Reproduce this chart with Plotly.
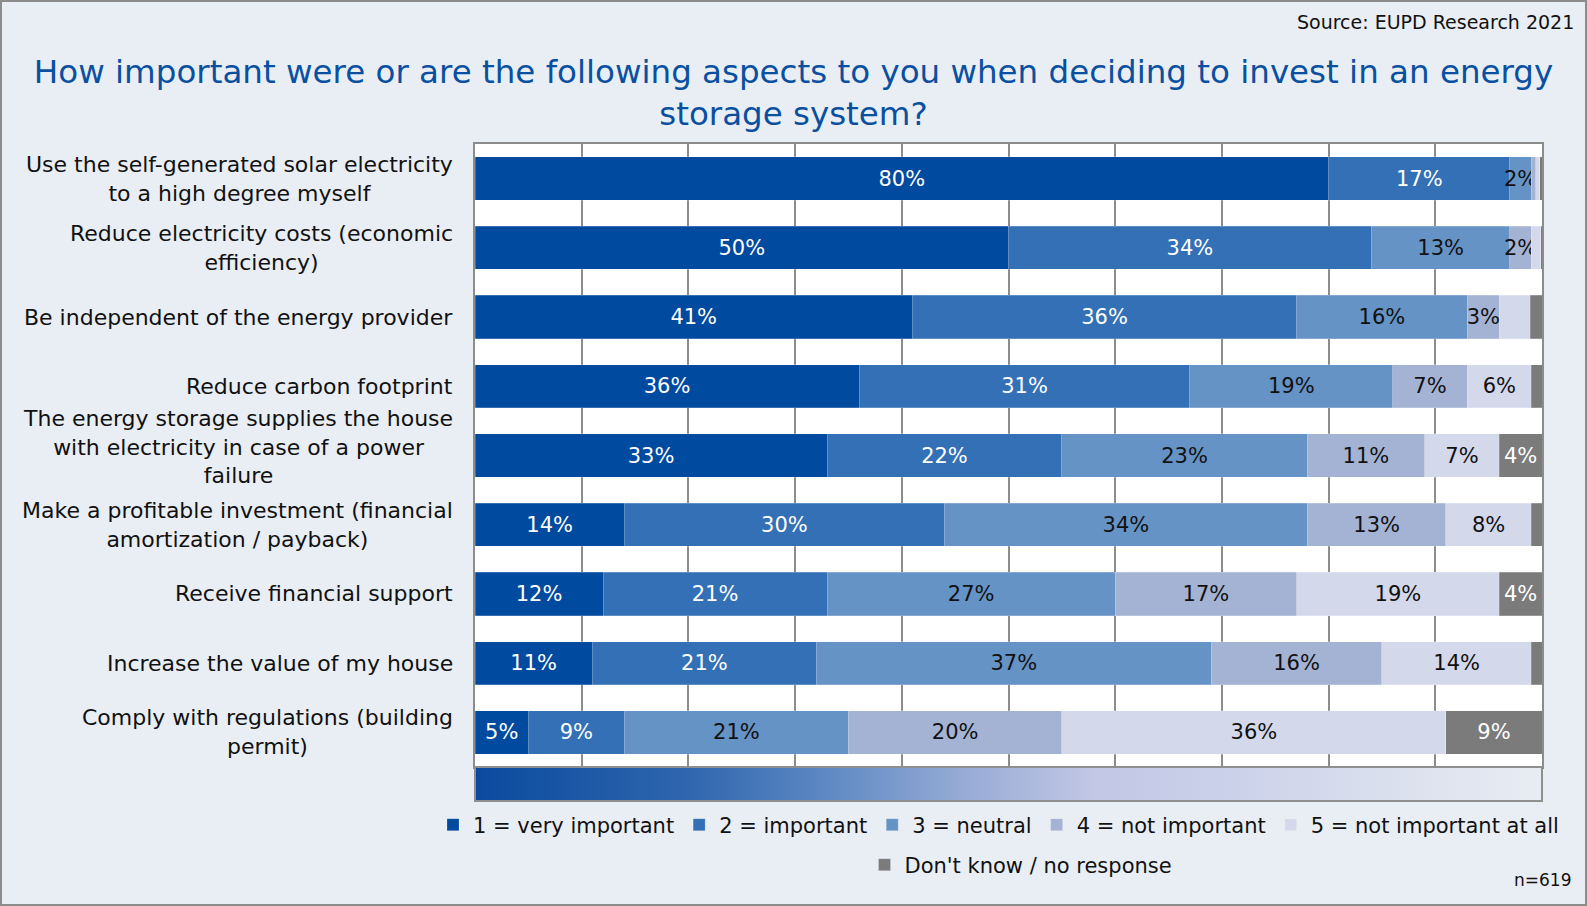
import plotly.graph_objects as go

# Survey answers, share of respondents in percent (n=619)
aspects = [
    "Use the self-generated solar electricity<br>to a high degree myself",
    "Reduce electricity costs (economic<br>efficiency)",
    "Be independent of the energy provider",
    "Reduce carbon footprint",
    "The energy storage supplies the house<br>with electricity in case of a power<br>failure",
    "Make a profitable investment (financial<br>amortization / payback)",
    "Receive financial support",
    "Increase the value of my house",
    "Comply with regulations (building<br>permit)",
]
very_important = [80, 50, 41, 36, 33, 14, 12, 11, 5]
important = [17, 34, 36, 31, 22, 30, 21, 21, 9]
neutral = [2, 13, 16, 19, 23, 34, 27, 37, 21]
not_important = [0.4, 2, 3, 7, 11, 13, 17, 16, 20]
not_important_at_all = [0.4, 0.9, 2.9, 6, 7, 8, 19, 14, 36]
dont_know = [0.2, 0.1, 1.1, 1, 4, 1, 4, 1, 9]

series_names = [
    "1 = very important",
    "2 = important",
    "3 = neutral",
    "4 = not important",
    "5 = not important at all",
    "Don't know / no response",
]
series_values = [very_important, important, neutral, not_important,
                 not_important_at_all, dont_know]
series_colors = ["#004a9f", "#3370b5", "#6593c6", "#a4b3d4", "#d3d8eb", "#7b7b7b"]
label_colors = ["white", "white", "#111111", "#111111", "#111111", "white"]

# (row, series) pairs whose segment carries no percentage label
unlabelled = {(0, 3), (0, 4), (0, 5), (1, 4), (1, 5), (2, 4), (2, 5),
              (3, 5), (5, 5), (7, 5)}

FONT = "DejaVu Sans"
W, H = 1587, 906
L, R, T, B = 475, 45, 144, 105
plot_h = H - T - B
plot_w = W - L - R
strip = (801 - 767) / plot_h  # height share of the gradient strip under the bars

fig = go.Figure()

for s, (name, vals, col, tcol) in enumerate(zip(series_names, series_values,
                                                 series_colors, label_colors)):
    texts = ["" if (r, s) in unlabelled else f"{v:g}%" for r, v in enumerate(vals)]
    fig.add_trace(go.Bar(
        y=aspects, x=vals, orientation="h", name=name,
        marker=dict(color=col, line=dict(color="rgba(255,255,255,0.35)", width=0.6)),
        text=texts, textposition="inside", insidetextanchor="middle", textangle=0,
        textfont=dict(family=FONT, size=21, color=tcol),
        legend="legend2" if s == 5 else "legend",
        hoverinfo="skip",
    ))

# Decorative colour ramp below the bars
fig.add_trace(go.Scatter(
    x=[0, 100, 100, 0, 0], y=[0, 0, 1, 1, 0], xaxis="x2", yaxis="y2",
    mode="lines", line=dict(width=0), fill="toself",
    fillgradient=dict(type="horizontal", colorscale=[
        [0.0, "#0a4a9e"], [0.2, "#2f66ae"], [0.32, "#5a86c2"],
        [0.45, "#93a9d4"], [0.58, "#c2c7e5"], [0.72, "#ccd2ea"],
        [0.86, "#dbe0ee"], [1.0, "#e8ecf3"]]),
    showlegend=False, hoverinfo="skip",
))

annotations = []
for r, a in enumerate(aspects):
    annotations.append(dict(
        x=(455 - L) / plot_w, xref="paper", y=a, yref="y",
        text=a, showarrow=False, xanchor="right", yanchor="middle", align="center",
        font=dict(family=FONT, size=22, color="#111111"),
        yshift=9 if r == 4 else 0,
    ))
annotations.append(dict(
    x=(1576 - L) / plot_w, xref="paper", y=(H - B - 22) / plot_h, yref="paper",
    text="Source: EUPD Research 2021", showarrow=False, xanchor="right",
    yanchor="middle", font=dict(family=FONT, size=19, color="#111111"),
))
annotations.append(dict(
    x=(1573 - L) / plot_w, xref="paper", y=(H - B - 880) / plot_h, yref="paper",
    text="n=619", showarrow=False, xanchor="right", yanchor="middle",
    font=dict(family=FONT, size=17, color="#111111"),
))

shapes = [
    # outer frame of the figure
    dict(type="rect", xref="paper", yref="paper",
         x0=(1 - L) / plot_w, x1=(W - 1 - L) / plot_w,
         y0=-(B - 1) / plot_h, y1=1 + (T - 1) / plot_h,
         line=dict(color="#8c8c8c", width=2), fillcolor="rgba(0,0,0,0)"),
    # frame of the colour ramp
    dict(type="rect", xref="paper", yref="paper", x0=0, x1=1, y0=0, y1=strip,
         line=dict(color="#8f8f8f", width=2), fillcolor="rgba(0,0,0,0)"),
]

fig.update_layout(
    width=W, height=H,
    margin=dict(l=L, r=R, t=T, b=B, autoexpand=False),
    paper_bgcolor="#e9eef4", plot_bgcolor="white",
    barmode="stack", bargap=0.375,
    font=dict(family=FONT, color="#111111"),
    uniformtext=dict(minsize=21, mode="show"),
    title=dict(
        text="How important were or are the following aspects to you when deciding to invest in an energy<br>storage system?",
        x=0.5, xanchor="center", y=1 - 83 / H, yanchor="middle", yref="container",
        font=dict(family=FONT, size=32.5, color="#0a50a1"),
    ),
    xaxis=dict(range=[0, 100], domain=[0, 1], showticklabels=False, ticks="",
               dtick=10, showgrid=True, gridcolor="#8c8c8c", gridwidth=1.5,
               showline=True, linecolor="#8c8c8c", linewidth=1.5, mirror=True,
               zeroline=False, fixedrange=True),
    yaxis=dict(domain=[strip, 1], autorange="reversed", showticklabels=False,
               ticks="", showgrid=False, showline=True, linecolor="#8c8c8c",
               linewidth=1.5, mirror=True, zeroline=False, fixedrange=True),
    xaxis2=dict(range=[0, 100], domain=[0, 1], anchor="y2", visible=False),
    yaxis2=dict(range=[0, 1], domain=[0, strip], anchor="x2", visible=False),
    legend=dict(orientation="h", x=(433 - L) / plot_w, xanchor="left",
                y=(H - B - 825) / plot_h, yanchor="middle",
                font=dict(family=FONT, size=21, color="#111111"),
                bgcolor="rgba(0,0,0,0)", itemwidth=30, tracegroupgap=0,
                traceorder="normal"),
    legend2=dict(orientation="h", x=(1021 - L) / plot_w, xanchor="center",
                 y=(H - B - 865) / plot_h, yanchor="middle",
                 font=dict(family=FONT, size=21, color="#111111"),
                 bgcolor="rgba(0,0,0,0)", itemwidth=30),
    annotations=annotations,
    shapes=shapes,
)

fig.write_html("out.html")
